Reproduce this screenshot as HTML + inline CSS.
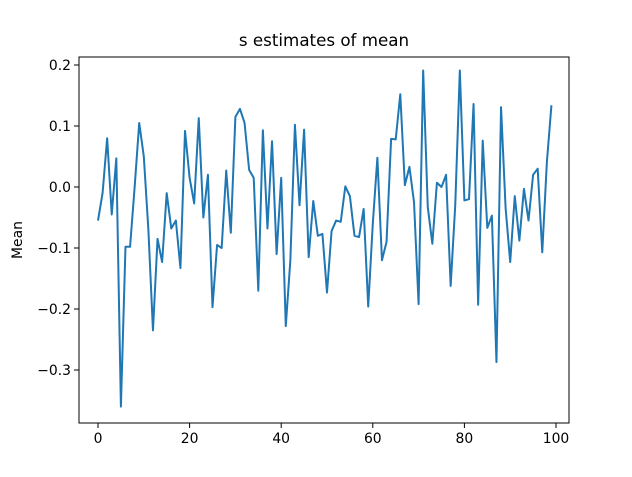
<!DOCTYPE html>
<html><head><meta charset="utf-8"><style>
body{margin:0;background:#fff;font-family:"Liberation Sans","DejaVu Sans",sans-serif}
svg text{font-family:"DejaVu Sans","Liberation Sans",sans-serif}
</style></head><body>
<svg id="c" width="632" height="472"></svg>
<script>
const values=[-0.055,-0.01,0.08,-0.045,0.047,-0.36,-0.098,-0.098,0.0,0.105,0.05,-0.07,-0.235,-0.085,-0.123,-0.01,-0.068,-0.055,-0.133,0.092,0.015,-0.027,0.113,-0.05,0.02,-0.197,-0.095,-0.1,0.027,-0.075,0.115,0.128,0.105,0.028,0.015,-0.17,0.093,-0.068,0.075,-0.11,0.015,-0.228,-0.12,0.102,-0.03,0.094,-0.115,-0.023,-0.08,-0.077,-0.173,-0.072,-0.055,-0.057,0.001,-0.015,-0.08,-0.082,-0.036,-0.196,-0.06,0.048,-0.12,-0.09,0.079,0.078,0.152,0.003,0.033,-0.025,-0.192,0.191,-0.033,-0.093,0.007,0.0,0.02,-0.162,-0.03,0.191,-0.022,-0.02,0.136,-0.193,0.076,-0.067,-0.047,-0.287,0.131,-0.035,-0.123,-0.015,-0.088,-0.003,-0.055,0.02,0.03,-0.107,0.04,0.134];
const xTicks=[0,20,40,60,80,100];
const yTicks=[0.2,0.1,0.0,-0.1,-0.2,-0.3];
const yLabels=["0.2","0.1","0.0","−0.1","−0.2","−0.3"];
const L=79,R=569,T=57,B=423;
const X=v=>98+v*4.58;
const Y=v=>187-v*610;
const s=document.getElementById('c');const NS='http://www.w3.org/2000/svg';
function el(t,a,txt){const e=document.createElementNS(NS,t);for(const k in a)e.setAttribute(k,a[k]);if(txt!==undefined)e.textContent=txt;s.appendChild(e);return e;}
let d=values.map((v,i)=>(i?'L':'M')+X(i).toFixed(2)+','+Y(v).toFixed(2)).join('');
const ln=el('path',{d:d,fill:'none',stroke:'#1f77b4','stroke-width':2,'stroke-linejoin':'round'});


const fr=el('rect',{x:L,y:T,width:R-L,height:B-T,fill:'none',stroke:'#000','stroke-width':1});


xTicks.forEach(t=>{
 el('line',{x1:X(t),x2:X(t),y1:B,y2:B+5,stroke:'#000','stroke-width':1});
 const tx=el('text',{x:X(t),y:B+20,'font-size':13.9,'text-anchor':'middle'},String(t));
 
 
});
yTicks.forEach((t,i)=>{
 el('line',{x1:L-5,x2:L,y1:Y(t),y2:Y(t),stroke:'#000','stroke-width':1});
 const tx=el('text',{x:L-8,y:Y(t)+5,'font-size':13.9,'text-anchor':'end'},yLabels[i]);
 
 
});
const ti=el('text',{x:(L+R)/2,y:46,'font-size':16.7,'text-anchor':'middle'},'s estimates of mean');


const yl=el('text',{x:22,y:240,'font-size':13.9,'text-anchor':'middle',transform:'rotate(-90 22 240)'},'Mean');


</script>
</body></html>
